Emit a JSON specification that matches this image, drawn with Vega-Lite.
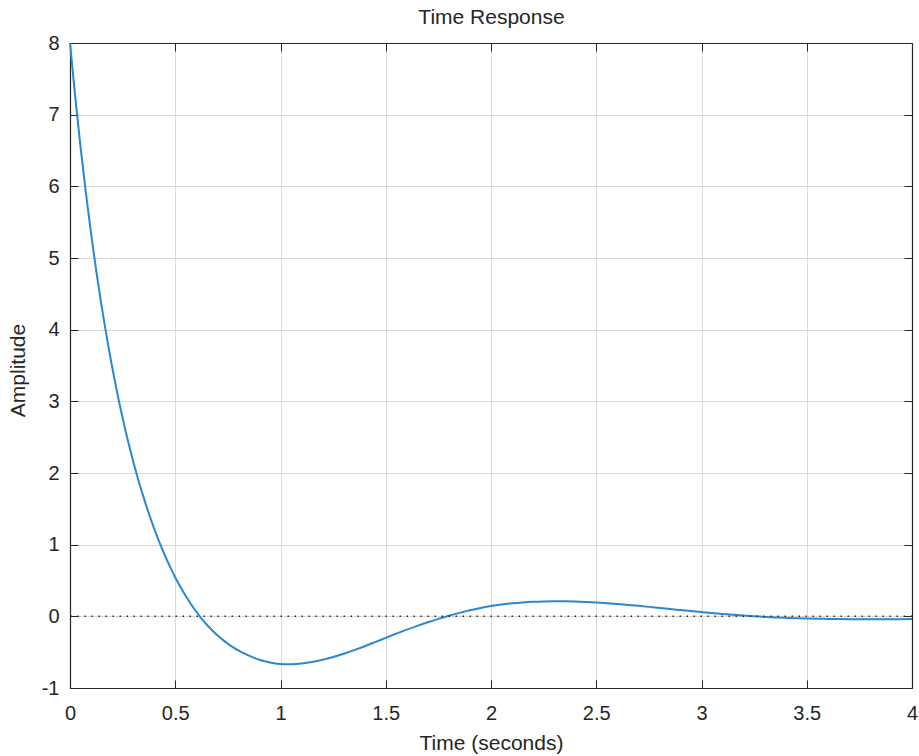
{
  "$schema": "https://vega.github.io/schema/vega-lite/v6.json",
  "width": 842,
  "height": 645,
  "autosize": {"type": "none"},
  "padding": {"left": 70, "top": 43, "right": 7, "bottom": 68},
  "background": "white",
  "config": {
    "view": {"stroke": null},
    "axis": {
      "domainColor": "#262626",
      "domainWidth": 1.2,
      "tickColor": "#262626",
      "tickSize": -8,
      "tickWidth": 1,
      "labelColor": "#262626",
      "labelFont": "Liberation Sans",
      "labelFontSize": 20,
      "titleColor": "#262626",
      "titleFont": "Liberation Sans",
      "titleFontSize": 21,
      "titleFontWeight": "normal",
      "gridColor": "#d9d9d9",
      "gridWidth": 1
    }
  },
  "resolve": {"axis": {"x": "independent", "y": "independent"}},
  "datasets": {
    "resp": [
      {"t": 0.000, "v": 8.00}, {"t": 0.025, "v": 7.244}, {"t": 0.050, "v": 6.552}, {"t": 0.075, "v": 5.921},
      {"t": 0.100, "v": 5.344}, {"t": 0.125, "v": 4.815}, {"t": 0.150, "v": 4.332}, {"t": 0.175, "v": 3.889},
      {"t": 0.200, "v": 3.483}, {"t": 0.225, "v": 3.110}, {"t": 0.250, "v": 2.768}, {"t": 0.275, "v": 2.454},
      {"t": 0.300, "v": 2.165}, {"t": 0.325, "v": 1.900}, {"t": 0.350, "v": 1.656}, {"t": 0.375, "v": 1.431},
      {"t": 0.400, "v": 1.223}, {"t": 0.425, "v": 1.032}, {"t": 0.450, "v": 0.856}, {"t": 0.475, "v": 0.693},
      {"t": 0.500, "v": 0.542}, {"t": 0.525, "v": 0.408}, {"t": 0.550, "v": 0.283}, {"t": 0.575, "v": 0.169},
      {"t": 0.600, "v": 0.064}, {"t": 0.625, "v": -0.032}, {"t": 0.650, "v": -0.118}, {"t": 0.675, "v": -0.194},
      {"t": 0.700, "v": -0.263}, {"t": 0.725, "v": -0.325}, {"t": 0.750, "v": -0.382}, {"t": 0.775, "v": -0.432},
      {"t": 0.800, "v": -0.475}, {"t": 0.825, "v": -0.514}, {"t": 0.850, "v": -0.549}, {"t": 0.875, "v": -0.579},
      {"t": 0.900, "v": -0.605}, {"t": 0.925, "v": -0.627}, {"t": 0.950, "v": -0.644}, {"t": 0.975, "v": -0.657},
      {"t": 1.000, "v": -0.665}, {"t": 1.025, "v": -0.669}, {"t": 1.050, "v": -0.670}, {"t": 1.075, "v": -0.666},
      {"t": 1.100, "v": -0.658}, {"t": 1.150, "v": -0.636}, {"t": 1.200, "v": -0.606}, {"t": 1.250, "v": -0.568},
      {"t": 1.300, "v": -0.523}, {"t": 1.350, "v": -0.472}, {"t": 1.400, "v": -0.417}, {"t": 1.450, "v": -0.359},
      {"t": 1.500, "v": -0.300}, {"t": 1.550, "v": -0.242}, {"t": 1.600, "v": -0.186}, {"t": 1.650, "v": -0.133},
      {"t": 1.700, "v": -0.083}, {"t": 1.750, "v": -0.036}, {"t": 1.800, "v": 0.008}, {"t": 1.850, "v": 0.048},
      {"t": 1.900, "v": 0.085}, {"t": 1.950, "v": 0.117}, {"t": 2.000, "v": 0.145}, {"t": 2.050, "v": 0.166},
      {"t": 2.100, "v": 0.182}, {"t": 2.150, "v": 0.194}, {"t": 2.200, "v": 0.202}, {"t": 2.250, "v": 0.207},
      {"t": 2.300, "v": 0.209}, {"t": 2.350, "v": 0.209}, {"t": 2.400, "v": 0.207}, {"t": 2.450, "v": 0.201},
      {"t": 2.500, "v": 0.193}, {"t": 2.550, "v": 0.183}, {"t": 2.600, "v": 0.172}, {"t": 2.650, "v": 0.159},
      {"t": 2.700, "v": 0.146}, {"t": 2.750, "v": 0.132}, {"t": 2.800, "v": 0.117}, {"t": 2.850, "v": 0.102},
      {"t": 2.900, "v": 0.088}, {"t": 2.950, "v": 0.074}, {"t": 3.000, "v": 0.060}, {"t": 3.050, "v": 0.046},
      {"t": 3.100, "v": 0.033}, {"t": 3.150, "v": 0.021}, {"t": 3.200, "v": 0.010}, {"t": 3.250, "v": 0.000},
      {"t": 3.300, "v": -0.008}, {"t": 3.350, "v": -0.015}, {"t": 3.400, "v": -0.021}, {"t": 3.450, "v": -0.026},
      {"t": 3.500, "v": -0.030}, {"t": 3.600, "v": -0.036}, {"t": 3.700, "v": -0.039}, {"t": 3.800, "v": -0.040},
      {"t": 3.900, "v": -0.040}, {"t": 4.000, "v": -0.038}
    ],
    "zero": [{"y": 0}]
  },
  "layer": [
    {
      "data": {"name": "resp"},
      "mark": {"type": "line", "color": "#2a88d2", "strokeWidth": 2, "interpolate": "monotone"},
      "encoding": {
        "x": {
          "field": "t", "type": "quantitative",
          "scale": {"domain": [0, 4], "nice": false, "zero": false},
          "axis": {
            "orient": "bottom", "title": "Time (seconds)",
            "values": [0, 0.5, 1, 1.5, 2, 2.5, 3, 3.5, 4],
            "labelExpr": "toString(datum.value)",
            "grid": true, "labelPadding": 23, "labelFlush": false, "labelOverlap": false,
            "titleY": 61, "titleBaseline": "alphabetic"
          }
        },
        "y": {
          "field": "v", "type": "quantitative",
          "scale": {"domain": [-1, 8], "nice": false, "zero": false},
          "axis": {
            "orient": "left", "title": "Amplitude",
            "values": [-1, 0, 1, 2, 3, 4, 5, 6, 7, 8],
            "labelExpr": "toString(datum.value)",
            "grid": true, "labelPadding": 19, "labelFlush": false, "labelOverlap": false,
            "titleX": -52, "titleY": 327, "titleAngle": -90, "titleBaseline": "middle", "titleAlign": "center"
          }
        }
      }
    },
    {
      "data": {"name": "zero"},
      "mark": {"type": "rule", "color": "#262626", "strokeWidth": 1.5, "strokeDash": [1.5, 5.5]},
      "encoding": {
        "y": {
          "field": "y", "type": "quantitative",
          "axis": {"orient": "right", "title": null, "labels": false, "grid": false,
                   "values": [-1, 0, 1, 2, 3, 4, 5, 6, 7, 8]}
        }
      }
    },
    {
      "data": {"name": "resp"},
      "mark": {"type": "point", "opacity": 0},
      "encoding": {
        "x": {
          "field": "t", "type": "quantitative",
          "axis": {"orient": "top", "title": "Time Response", "labels": false, "grid": false,
                   "values": [0, 0.5, 1, 1.5, 2, 2.5, 3, 3.5, 4],
                   "titleY": -20, "titleBaseline": "alphabetic", "titleFontSize": 21}
        }
      }
    }
  ]
}
